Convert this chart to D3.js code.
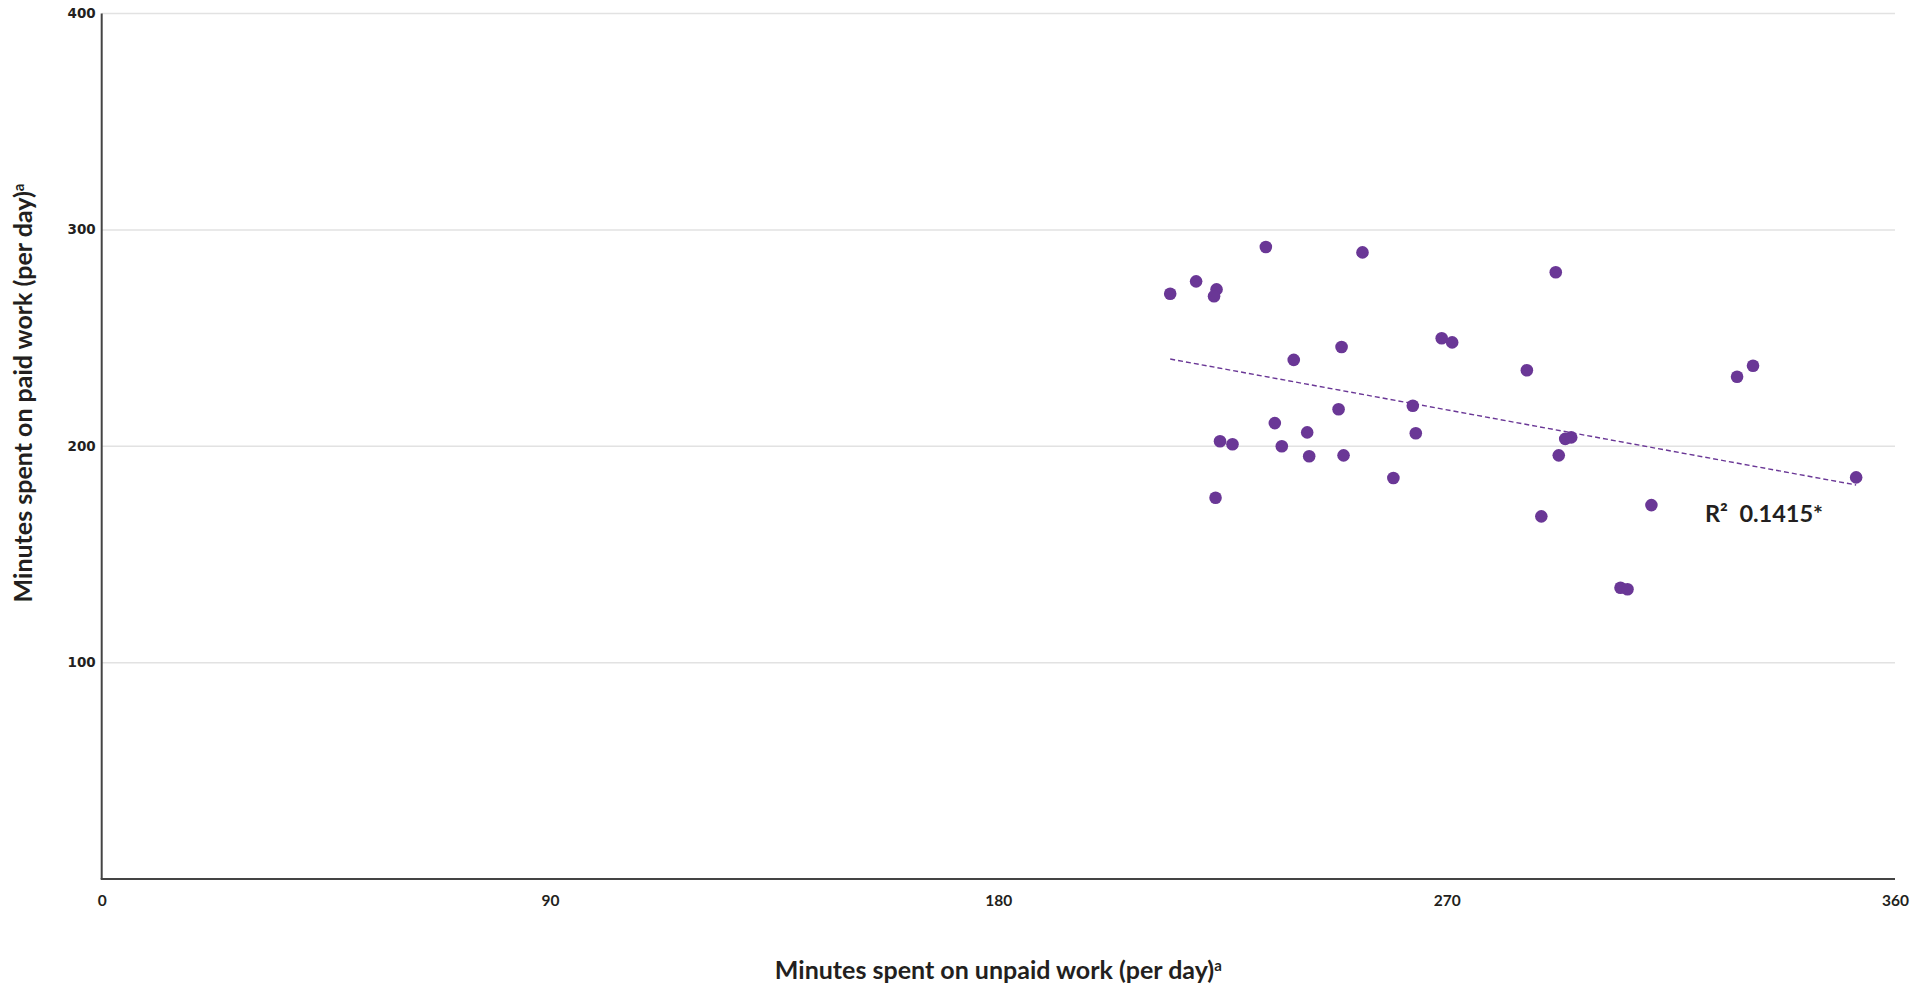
<!DOCTYPE html>
<html>
<head>
<meta charset="utf-8">
<script src="https://cdn.jsdelivr.net/npm/d3@7"></script>
<style>
  html, body { margin: 0; padding: 0; background: #fff; }
  svg { display: block; }
</style>
</head>
<body>
<svg id="chart" width="1910" height="983"></svg>
<script>
// ---- Data ----
const unpaidMinutes = [233.7, 253.1, 219.7, 214.5, 223.8, 223.3, 269.0, 271.1, 248.9, 239.3,
                       286.1, 248.3, 263.2, 235.5, 242.0, 263.8, 224.5, 227.0, 236.9, 242.4,
                       249.3, 259.3, 223.6, 289.0, 291.9, 328.3, 331.5, 293.8, 295.0, 292.5,
                       352.2, 311.1, 304.9, 306.3];
const paidMinutes   = [292.1, 289.6, 276.2, 270.5, 272.5, 269.3, 249.9, 248.0, 245.9, 239.9,
                       235.1, 217.1, 218.7, 210.7, 206.4, 206.0, 202.3, 200.9, 200.0, 195.4,
                       195.8, 185.3, 176.2, 167.6, 280.4, 232.1, 237.2, 203.4, 204.1, 195.8,
                       185.6, 172.8, 134.6, 133.9];
const trendX = [214.5, 352.2];
const trendY = [240.3, 182.1];
const xTicks = [0, 90, 180, 270, 360];
const yTicks = [100, 200, 300, 400];
const r2Label = "R\u00B2  0.1415*";
const xTitle = "Minutes spent on unpaid work (per day)";
const yTitle = "Minutes spent on paid work (per day)";

(function () {
// ---- Layout ----
const mLeft = 101.7, mRight = 1895, mTop = 13.5, mBottom = 879;
const x = d3.scaleLinear().domain([0, 360]).range([mLeft, mRight]);
const y = d3.scaleLinear().domain([0, 400]).range([mBottom, mTop]);

const svg = d3.select("#chart");
const purple = "#6a3796";
const textCol = "#231f20";

// gridlines
svg.append("g").selectAll("line").data(yTicks).join("line")
  .attr("x1", mLeft).attr("x2", mRight)
  .attr("y1", d => y(d)).attr("y2", d => y(d))
  .attr("stroke", "#e2e2e2").attr("stroke-width", 1.5);

// y axis (labels only)
const yAxis = svg.append("g")
  .attr("transform", `translate(${mLeft},0)`)
  .call(d3.axisLeft(y).tickValues(yTicks).tickSize(0).tickPadding(6));
yAxis.select(".domain").remove();
yAxis.selectAll("text")
  .attr("font-family", "'DejaVu Sans', sans-serif")
  .attr("font-weight", "bold")
  .attr("font-size", "13.5px")
  .attr("fill", textCol)
  .attr("dy", "0.28em");

// x axis (labels only)
const xAxis = svg.append("g")
  .attr("transform", `translate(0,${mBottom})`)
  .call(d3.axisBottom(x).tickValues(xTicks).tickSize(0).tickPadding(0));
xAxis.select(".domain").remove();
xAxis.selectAll("text")
  .attr("font-family", "Lato, sans-serif")
  .attr("font-weight", "bold")
  .attr("font-size", "15.5px")
  .attr("fill", textCol)
  .attr("dy", null)
  .attr("y", 27);

// axis lines
svg.append("line").attr("x1", mLeft).attr("x2", mLeft).attr("y1", mTop).attr("y2", mBottom)
  .attr("stroke", "#444").attr("stroke-width", 2);
svg.append("line").attr("x1", mLeft - 1).attr("x2", mRight).attr("y1", mBottom).attr("y2", mBottom)
  .attr("stroke", "#444").attr("stroke-width", 2);

// trend line
svg.append("line")
  .attr("x1", x(trendX[0])).attr("y1", y(trendY[0]))
  .attr("x2", x(trendX[1])).attr("y2", y(trendY[1]))
  .attr("stroke", purple).attr("stroke-width", 1.4)
  .attr("stroke-dasharray", "5,3");

// points
svg.append("g").selectAll("circle").data(unpaidMinutes.map((d, i) => [d, paidMinutes[i]])).join("circle")
  .attr("cx", d => x(d[0])).attr("cy", d => y(d[1]))
  .attr("r", 6.3)
  .attr("fill", purple);

// R² label
svg.append("text")
  .attr("x", 1705).attr("y", 522)
  .attr("font-family", "Lato, sans-serif")
  .attr("font-weight", "bold")
  .attr("font-size", "23.5px")
  .attr("fill", textCol)
  .style("white-space", "pre")
  .text(r2Label);

// x title
const xt = svg.append("text")
  .attr("x", (mLeft + mRight) / 2).attr("y", 979)
  .attr("text-anchor", "middle")
  .attr("font-family", "Lato, sans-serif")
  .attr("font-weight", "bold")
  .attr("font-size", "25px")
  .attr("fill", textCol);
xt.append("tspan").text(xTitle);
xt.append("tspan").attr("dy", "-0.55em").attr("font-size", "15px").text("a");

// y title
const yt = svg.append("text")
  .attr("transform", `translate(32,393) rotate(-90)`)
  .attr("text-anchor", "middle")
  .attr("font-family", "Lato, sans-serif")
  .attr("font-weight", "bold")
  .attr("font-size", "25px")
  .attr("fill", textCol);
yt.append("tspan").text(yTitle);
yt.append("tspan").attr("dy", "-0.55em").attr("font-size", "15px").text("a");
})();
</script>
</body>
</html>
